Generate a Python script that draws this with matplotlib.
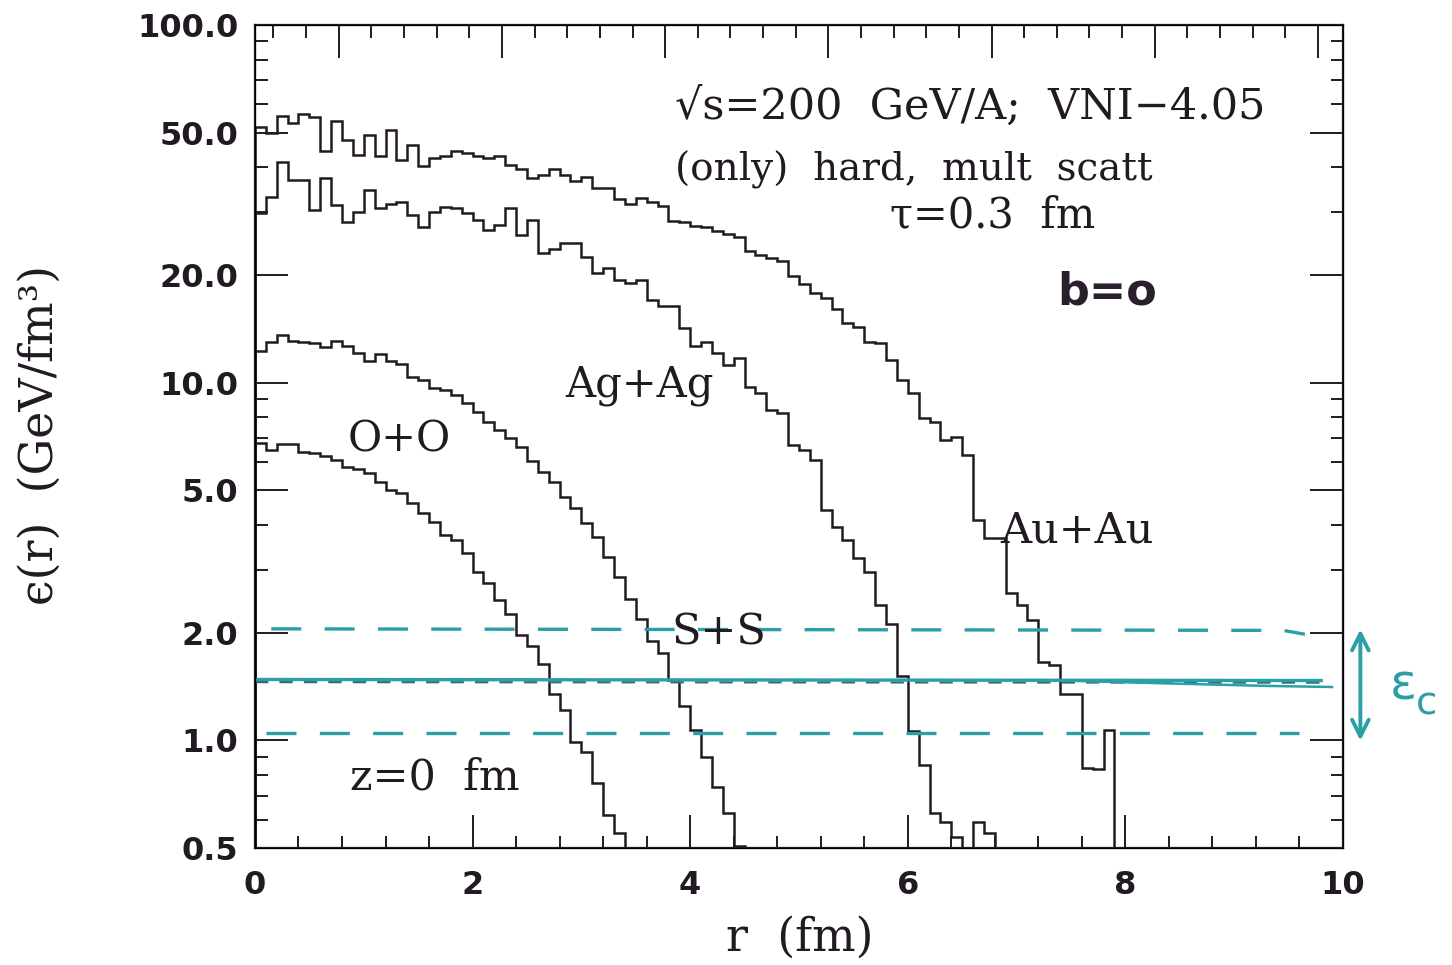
import numpy as np
import matplotlib.pyplot as plt

plt.rcParams['mathtext.fontset'] = 'dejavuserif'

# energy density per 0.1 fm radial bin, GeV/fm^3 (0 = empty bin)
bin_width = 0.1
au_au = [51.8, 50.0, 55.7, 53.1, 56.4, 55.2, 44.4, 54.0, 47.7, 43.3,
         49.3, 42.9, 50.9, 41.9, 46.2, 40.4, 42.4, 43.0, 44.5, 43.8,
         43.0, 42.4, 42.9, 40.6, 39.7, 37.3, 38.1, 39.5, 38.1, 36.7,
         37.5, 35.0, 35.0, 32.6, 31.5, 32.9, 32.1, 31.1, 28.3, 28.2,
         27.5, 27.2, 26.5, 26.0, 25.5, 23.3, 22.7, 22.3, 21.9, 19.9,
         18.9, 17.8, 17.2, 16.1, 14.7, 14.3, 13.0, 12.9, 11.6, 10.2,
         9.34, 7.95, 7.78, 6.91, 7.06, 6.28, 4.14, 3.67, 3.67, 2.58,
         2.39, 2.17, 1.66, 1.62, 1.35, 1.35, 0.835, 0.83, 1.07, 0.0]
ag_ag = [29.8, 33.1, 41.5, 36.9, 36.9, 30.4, 37.3, 31.4, 28.2, 30.1,
         34.6, 30.8, 31.6, 32.1, 29.4, 27.3, 30.1, 31.0, 30.8, 29.8,
         28.5, 26.7, 27.6, 30.7, 25.9, 28.5, 23.0, 23.6, 24.5, 24.5,
         22.5, 20.3, 20.9, 19.4, 19.0, 19.4, 17.0, 16.4, 16.4, 14.2,
         12.7, 13.0, 12.1, 11.2, 11.7, 9.75, 9.34, 8.39, 8.21, 6.70,
         6.5, 6.08, 4.41, 3.96, 3.63, 3.23, 2.96, 2.39, 2.11, 1.51,
         1.06, 0.855, 0.625, 0.593, 0.538, 0.0, 0.593, 0.55, 0.0]
s_s = [12.3, 13.0, 13.6, 13.1, 13.0, 12.9, 12.6, 13.1, 12.7, 12.1,
       11.5, 12.0, 11.5, 11.3, 10.4, 10.2, 9.65, 9.55, 9.24, 8.76,
       8.29, 7.78, 7.37, 6.99, 6.6, 6.05, 5.64, 5.29, 4.80, 4.46,
       4.05, 3.71, 3.25, 2.87, 2.48, 2.19, 1.89, 1.76, 1.475, 1.25,
       1.07, 0.90, 0.743, 0.625, 0.505, 0.0]
o_o = [6.77, 6.48, 6.74, 6.74, 6.4, 6.35, 6.25, 6.08, 5.82, 5.72,
       5.58, 5.29, 5.01, 4.93, 4.60, 4.31, 4.09, 3.75, 3.63, 3.33,
       2.96, 2.75, 2.47, 2.26, 1.97, 1.83, 1.63, 1.35, 1.215, 0.99,
       0.93, 0.76, 0.62, 0.55, 0.0]

# critical energy density band drawn on top
ec_r = [0.0, 9.8]
ec_mid = [1.48, 1.47]
ec_tail_r = [7.4, 8.5, 9.3, 9.9]
ec_tail = [1.47, 1.44, 1.42, 1.41]
band_hi_r = [0.15, 9.45, 9.65]
band_hi = [2.05, 2.03, 1.98]
band_lo_r = [0.1, 9.6]
band_lo = [1.05, 1.05]

y_major = [0.5, 1, 2, 5, 10, 20, 50, 100]
y_labels = ['0.5', '1.0', '2.0', '5.0', '10.0', '20.0', '50.0', '100.0']
y_minor = [0.6, 0.7, 0.8, 0.9, 3, 4, 6, 7, 8, 9, 30, 40, 60, 70, 80, 90]
x_major = [0, 2, 4, 6, 8, 10]
top_major = [0.77, 2.27, 3.77, 5.27, 6.77, 8.27, 9.77]

ink = '#221a22'
cyan = '#2a9fa6'

fig = plt.figure(figsize=(14.52, 9.65), dpi=100)
ax = fig.add_axes([0.1756, 0.1212, 0.7493, 0.8529])

for vals in (au_au, ag_ag, s_s, o_o):
    v = np.array(vals)
    v = np.where(v > 0, v, 0.3)
    edges = np.arange(len(v) + 1) * bin_width
    ax.stairs(v, edges, color=ink, lw=1.8)

ax.set_yscale('log')
ax.set_xlim(0, 10)
ax.set_ylim(0.5, 100)

ax.set_yticks(y_major)
ax.set_yticklabels(y_labels)
ax.set_yticks(y_minor, minor=True)
ax.yaxis.set_minor_formatter(plt.NullFormatter())
ax.set_xticks(x_major)
ax.set_xticks(np.arange(0, 10.01, 0.4), minor=True)
ax.tick_params(which='both', direction='in', right=True, top=False,
               width=1.4, color=ink, labelcolor=ink)
ax.tick_params(which='major', length=24, labelsize=23)
ax.tick_params(axis='y', which='major', pad=12)
ax.tick_params(axis='x', which='major', pad=16)
ax.tick_params(which='minor', length=9)
for lbl in ax.get_xticklabels() + ax.get_yticklabels():
    lbl.set_fontweight('bold')
for sp in ax.spines.values():
    sp.set_linewidth(1.6)
    sp.set_color(ink)

ax_top = ax.twiny()
ax_top.set_xlim(0, 10)
ax_top.set_xticks(top_major)
ax_top.set_xticks(np.arange(0.17, 10.0, 0.3), minor=True)
ax_top.tick_params(which='both', direction='in', labeltop=False,
                   width=1.4, color=ink)
ax_top.tick_params(which='major', length=24)
ax_top.tick_params(which='minor', length=9)

# hand-drawn critical density lines
ax.plot(band_hi_r, band_hi, color=cyan, lw=2.4, dashes=(9, 7))
ax.plot(band_lo_r, band_lo, color=cyan, lw=2.4, dashes=(9, 7))
ax.plot(ec_r, [1.455, 1.45], color='#2f6f73', lw=1.6, dashes=(6, 5))
ax.plot(ec_r, ec_mid, color=cyan, lw=2.4)
ax.plot(ec_tail_r, ec_tail, color=cyan, lw=1.8)

ax.annotate('', xy=(10.16, 0.98), xytext=(10.16, 2.08),
            arrowprops=dict(arrowstyle='<->', color=cyan, lw=2.8,
                            mutation_scale=30),
            annotation_clip=False)
ax.text(10.55, 1.42, 'ε', color=cyan, fontsize=36, family='DejaVu Sans',
        ha='center', va='center', clip_on=False)
ax.text(10.77, 1.27, 'c', color=cyan, fontsize=28, family='DejaVu Sans',
        ha='center', va='center', clip_on=False)

serif = 'DejaVu Serif'
ax.text(3.86, 59.0, '√s=200  GeV/A;  VNI−4.05', family=serif, fontsize=31,
        color=ink, va='center')
ax.text(3.86, 39.3, '(only)  hard,  mult  scatt', family=serif,
        fontsize=28, color=ink, va='center')
ax.text(5.84, 29.4, 'τ=0.3  fm', family=serif, fontsize=30,
        color=ink, va='center')
ax.text(7.37, 17.9, 'b=o', fontsize=32, fontweight='bold',
        color='#2a1f2c', va='center')
ax.text(2.85, 9.85, 'Ag+Ag', family=serif, fontsize=30, color=ink,
        va='center')
ax.text(0.855, 6.92, 'O+O', family=serif, fontsize=30, color=ink,
        va='center')
ax.text(6.85, 3.87, 'Au+Au', family=serif, fontsize=31, color=ink,
        va='center')
ax.text(3.83, 2.0, 'S+S', family=serif, fontsize=31, color=ink,
        va='center')
ax.text(0.87, 0.785, 'z=0  fm', family=serif, fontsize=31, color=ink,
        va='center')

fig.text(800 / 1452, 1 - 938 / 965, 'r  (fm)', family=serif, fontsize=33,
         color=ink, ha='center', va='center')
fig.text(40 / 1452, 1 - 435 / 965, 'ϵ(r)  (GeV/fm³)',
         family=serif, fontsize=33, color=ink, ha='center', va='center',
         rotation=90)

fig.savefig('out.png', dpi=100)
